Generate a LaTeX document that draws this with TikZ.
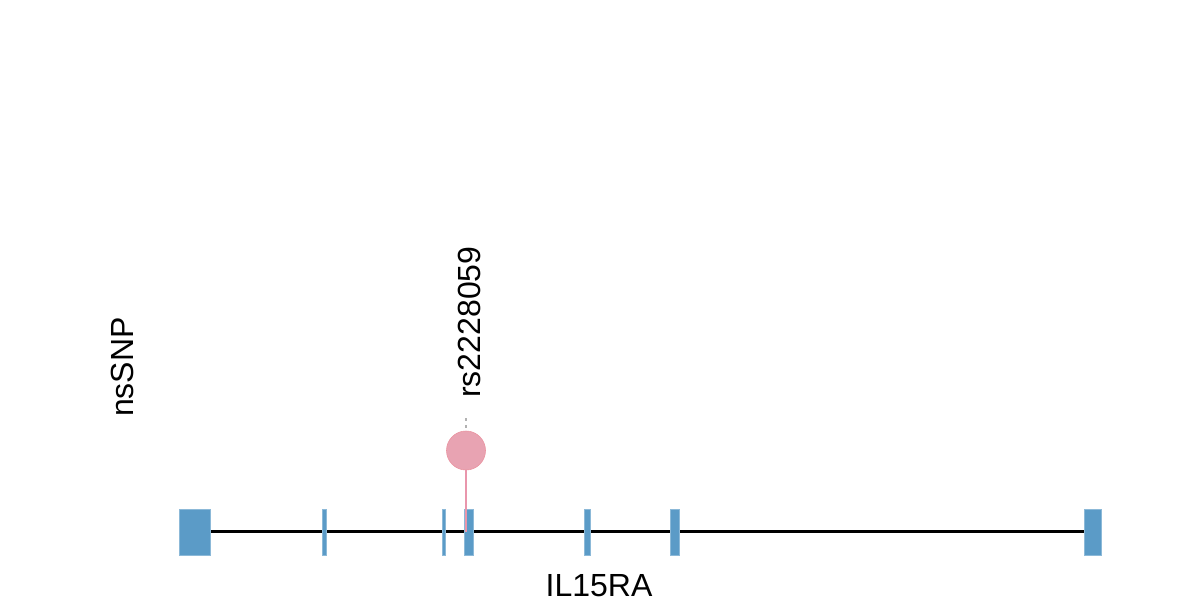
\documentclass[tikz,border=0pt]{standalone}
\usepackage{fontspec}
\setmainfont{Liberation Sans}
\definecolor{exonblue}{RGB}{91,155,199}
\definecolor{snppink}{RGB}{232,163,178}
\definecolor{stickpink}{RGB}{233,150,172}
\begin{document}
\begin{tikzpicture}[x=1pt,y=-1pt,
  exon/.style={fill=exonblue,draw=exonblue!70!white,line width=0.6pt},
  lbl/.style={font=\fontsize{32}{38}\selectfont,inner sep=0pt}]
\useasboundingbox (0,0) rectangle (1200,600);
% intron backbone
\coordinate (ls) at (210,531.5);
\coordinate (le) at (1084,531.5);
\draw[line width=2.2pt,black] (ls) -- (le);
% exons
\path[exon] (179,509) rectangle (210,555);
\path[exon] (322,509) rectangle (326,555);
\path[exon] (442,509) rectangle (445,555);
\path[exon] (464,509) rectangle (473,555);
\path[exon] (584,509) rectangle (590,555);
\path[exon] (670,509) rectangle (679,555);
\path[exon] (1084,509) rectangle (1101,555);
% SNP lollipop
\coordinate (base) at (466,532);
\node[circle,minimum size=39pt,inner sep=0pt,fill=snppink,draw=snppink!90!red,line width=0.6pt] (snp) at (466,450.5) {};
\draw[stickpink,line width=2pt] (snp.south) -- (base);
\coordinate (tk1) at (466,418);
\coordinate (tk2) at (466,430);
\draw[gray!60,line width=1.2pt,dash pattern=on 3pt off 4pt] (tk1) -- (tk2);
% labels
\node[lbl,rotate=90,anchor=base west] (rs) at (480,398) {rs2228059};
\node[lbl,rotate=90,anchor=base west] (ns) at (133,417) {nsSNP};
\node[lbl,anchor=base,text depth=0pt] (gene) at (599,596) {IL15RA};
\end{tikzpicture}
\end{document}
